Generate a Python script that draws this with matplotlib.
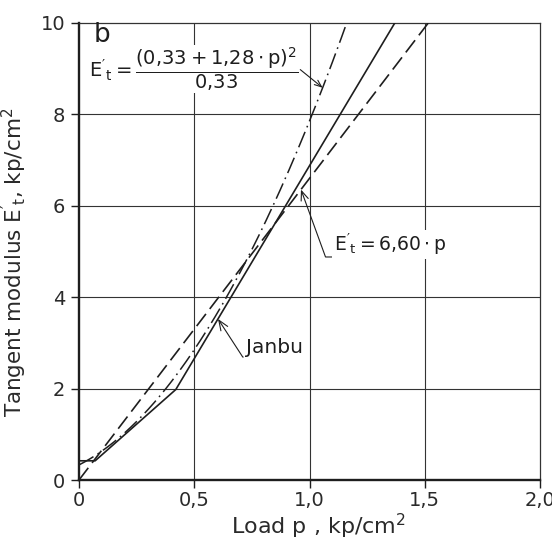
import numpy as np
import matplotlib
matplotlib.use("Agg")
import matplotlib.pyplot as plt

plt.rcParams["font.family"] = ["DejaVu Sans"]
plt.rcParams["mathtext.fontset"] = "dejavusans"
plt.rcParams["mathtext.default"] = "regular"
plt.rcParams["lines.scale_dashes"] = False

INK = "#1e1e1e"

# Janbu's tangent modulus (measured, piecewise)
p_janbu = [0.0, 0.07, 0.42, 1.37]
E_janbu = [0.42, 0.42, 1.98, 10.0]

# Fitted expressions stated on the chart
a_coef = 0.33      # E't = (a + b*p)^2 / a
b_coef = 1.28
k_lin = 6.60       # E't = k * p
p_curve = np.linspace(0.0, 1.25, 200)
p_line = [0.0, 1.6]

x_ticks = [0.0, 0.5, 1.0, 1.5, 2.0]
x_ticklabels = ["0", "0,5", "1,0", "1,5", "2,0"]
y_ticks = [0, 2, 4, 6, 8, 10]
y_ticklabels = ["0", "2", "4", "6", "8", "10"]

fig = plt.figure(figsize=(5.52, 5.45), dpi=100)
ax = fig.add_axes([79 / 552, 65 / 545, 461 / 552, 457 / 545])
ax.set_xlim(0, 2.0)
ax.set_ylim(0, 10)

# grid
for xv in x_ticks[1:-1]:
    ax.axvline(xv, color="#333333", lw=0.8, zorder=1)
for yv in y_ticks[1:-1]:
    ax.axhline(yv, color="#333333", lw=0.8, zorder=1)

E_curve = (a_coef + b_coef * p_curve) ** 2 / a_coef
E_line = [k_lin * p for p in p_line]

ax.plot(p_janbu, E_janbu, color=INK, lw=1.2, zorder=3)
ax.plot(p_line, E_line, color=INK, lw=1.2, zorder=3, linestyle=(0, (11, 4.5)))
ax.plot(p_curve, E_curve, color=INK, lw=1.1, zorder=3,
        linestyle=(0, (12, 3.5, 1.2, 3.5)))

for side in ["top", "right"]:
    ax.spines[side].set_linewidth(0.9)
    ax.spines[side].set_color("#333333")
for side in ["left", "bottom"]:
    ax.spines[side].set_linewidth(1.7)
    ax.spines[side].set_color(INK)

ax.set_xticks(x_ticks)
ax.set_xticklabels(x_ticklabels)
ax.set_yticks(y_ticks)
ax.set_yticklabels(y_ticklabels)
ax.tick_params(axis="both", direction="out", length=6, width=1.0,
               color=INK, labelcolor="#2a2a2a", labelsize=14)
ax.tick_params(axis="x", pad=2)
ax.tick_params(axis="y", pad=4)

ax.set_xlabel(r"Load p , kp/cm$^2$", fontsize=16, color="#2a2a2a")
ax.xaxis.set_label_coords(0.52, -0.07)
ax.set_ylabel(r"Tangent modulus $E'_t$, kp/cm$^2$", fontsize=15.5, color="#2a2a2a")
ax.yaxis.set_label_coords(-0.108, 0.477)

# panel letter and formula
ax.text(0.032, 0.973, "b", transform=ax.transAxes, fontsize=19,
        color=INK, va="center", ha="left")
ax.text(0.022, 0.899,
        r"$E'_t = \dfrac{(0{,}33 + 1{,}28\cdot p)^2}{0{,}33}$",
        transform=ax.transAxes, fontsize=14, color=INK, va="center", ha="left",
        bbox=dict(boxstyle="square,pad=0.0", fc="white", ec="none"), zorder=4)

arrow_kw = dict(arrowstyle="->,head_length=0.5,head_width=0.2", color=INK,
                lw=0.8, shrinkA=0, shrinkB=0)

p_tip = 1.057
ax.annotate("", xy=(p_tip, (a_coef + b_coef * p_tip) ** 2 / a_coef),
            xytext=(0.96, 8.98), arrowprops=arrow_kw, zorder=5)

p_tip = 0.963
ax.annotate(r"$E'_t = 6{,}60\cdot p$", xy=(p_tip, k_lin * p_tip),
            xytext=(1.106, 4.88), fontsize=13.5, color=INK, va="bottom", ha="left",
            bbox=dict(boxstyle="square,pad=0.1", fc="white", ec="none"),
            arrowprops=dict(connectionstyle="angle,angleA=0,angleB=110,rad=0",
                            relpos=(0, 0), **arrow_kw), zorder=5)

p_tip = 0.603
ax.annotate("Janbu", xy=(p_tip, np.interp(p_tip, p_janbu, E_janbu)),
            xytext=(0.7245, 2.69), fontsize=14.5, color=INK, va="bottom", ha="left",
            arrowprops=dict(connectionstyle="angle,angleA=0,angleB=123,rad=0",
                            relpos=(0, 0), **arrow_kw), zorder=5)

fig.savefig("out.png", dpi=100, facecolor="white")
